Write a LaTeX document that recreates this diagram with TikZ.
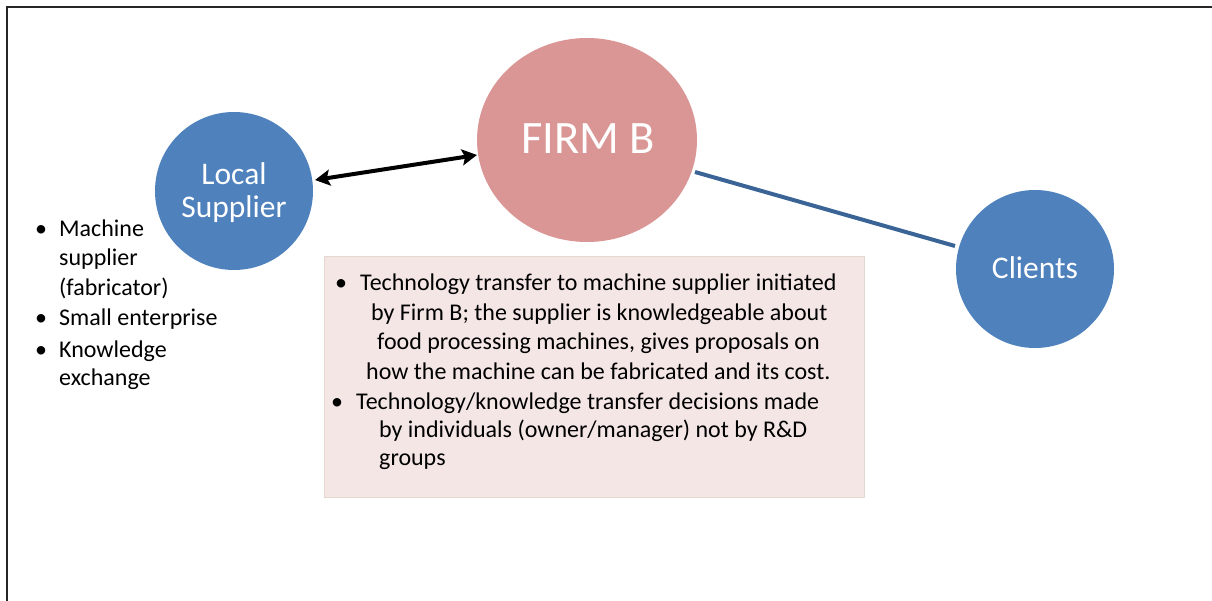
\documentclass[tikz,border=0pt]{standalone}
\usepackage{fontspec}
\setmainfont{Carlito}
\usetikzlibrary{arrows.meta,shapes.geometric}
\definecolor{cblue}{HTML}{4F81BD}
\definecolor{cpink}{HTML}{D99694}
\definecolor{cline}{HTML}{3A6496}
\definecolor{cbox}{HTML}{F5E6E6}
\definecolor{cboxb}{HTML}{E4D8D0}
\tikzset{
  bubble/.style={circle, fill=cblue, draw=none, minimum size=158pt, inner sep=0pt, text=white, align=center},
  bubtxt/.style={font=\fontsize{31.5}{36}\selectfont, text=white, anchor=base, inner sep=0pt},
  txt/.style={anchor=base west, inner sep=0pt, font=\fontsize{24}{29}\selectfont},
  bul/.style={anchor=base west, inner sep=0pt, font=\fontsize{24}{29}\selectfont},
}
\begin{document}
\begin{tikzpicture}[x=1pt,y=-1pt]
\useasboundingbox (0,0) rectangle (1212,601);
\draw[line width=2pt, color=black!85] (7,601) -- (7,7.5) -- (1212,7.5);
% nodes
\node[bubble] (ls) at (234,191) {};
\node[bubtxt] (lst1) at (234,185) {Local};
\node[bubtxt] (lst2) at (234,218) {Supplier};
\node[ellipse, fill=cpink, minimum width=220pt, minimum height=204pt, inner sep=0pt] (fb) at (587,140) {};
\node[font=\fontsize{46.5}{50}\selectfont, text=white, anchor=base, inner sep=0pt] (fbt) at (588,154) {FIRM B};
\node[bubble] (cl) at (1035,269) {};
\node[bubtxt] (clt) at (1035,279) {Clients};
% connectors
\coordinate (a1) at (315,180);
\coordinate (a2) at (477,155);
\draw[line width=4pt, {Stealth[length=15pt,width=16pt,inset=3pt]}-{Stealth[length=15pt,width=16pt,inset=3pt]}] (a1) -- (a2);
\coordinate (b1) at (695,172);
\coordinate (b2) at (955,246);
\draw[line width=4pt, cline] (b1) -- (b2);
% text box
\node[fill=cbox, draw=cboxb, line width=1pt, minimum width=540pt, minimum height=241pt, anchor=north west, inner sep=0pt] (box) at (324,256) {};
\node[bul] (bu1) at (335,291) {•};
\node[txt] (t1) at (360,291) {Technology transfer to machine supplier initiated};
\node[txt] (t2) at (371,320) {by Firm B; the supplier is knowledgeable about};
\node[txt] (t3) at (377,349) {food processing machines, gives proposals on};
\node[txt] (t4) at (366,379) {how the machine can be fabricated and its cost.};
\node[bul] (bu2) at (331,409) {•};
\node[txt] (t5) at (356,409) {Technology/knowledge transfer decisions made};
\node[txt] (t6) at (379,437) {by individuals (owner/manager) not by R\&D};
\node[txt] (t7) at (379,465) {groups};
% left list
\node[bul] (lb1) at (35,237) {•};
\node[txt] (l1) at (59,237) {Machine};
\node[txt] (l2) at (59,266) {supplier};
\node[txt] (l3) at (59,296) {(fabricator)};
\node[bul] (lb2) at (35,326) {•};
\node[txt] (l4) at (59,326) {Small enterprise};
\node[bul] (lb3) at (35,357) {•};
\node[txt] (l5) at (59,357) {Knowledge};
\node[txt] (l6) at (59,385) {exchange};
\end{tikzpicture}
\end{document}
